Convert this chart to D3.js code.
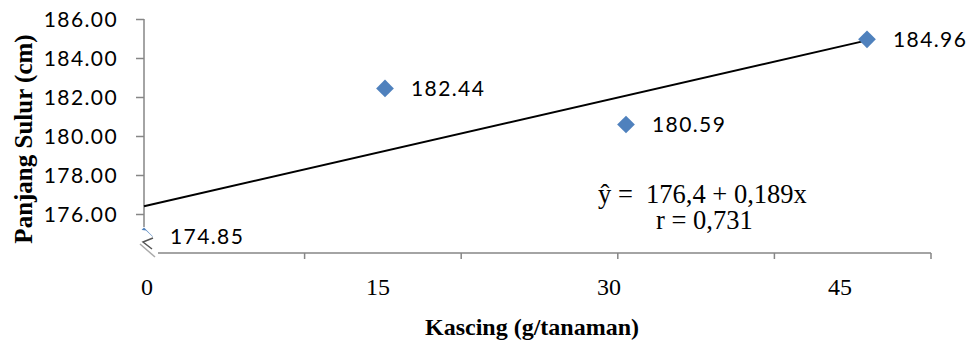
<!DOCTYPE html>
<html>
<head>
<meta charset="utf-8">
<script src="https://cdn.jsdelivr.net/npm/d3@7"></script>
<style>
  body { margin: 0; background: #fff; }
  .num { font-family: Lato, "Open Sans", sans-serif; font-size: 21px; letter-spacing: 1.4px; fill: #000; }
  .serif { font-family: "Liberation Serif", "Times New Roman", serif; fill: #000; }
</style>
</head>
<body>
<div class="main"></div>
<script>
// data
const doses = [0, 15, 30, 45];
const lengths = [174.85, 182.44, 180.59, 184.96];
const yTicks = [176, 178, 180, 182, 184, 186];
const xTickLabels = ["0", "15", "30", "45"];
const intercept = 176.4;
const slope = 0.189;
const equation = "ŷ =  176,4 + 0,189x";
const rText = "r = 0,731";

const w = 969;
const h = 344;

const svg = d3.select(".main")
  .append("svg")
  .attr("width", w)
  .attr("height", h);

const xScale = d3.scaleLinear().domain([0, 45]).range([144, 867]);
const yScale = d3.scaleLinear().domain([174, 186]).range([253, 19]);
// the category axis frame has 5 equal divisions
const frameScale = d3.scaleLinear().domain([0, 5]).range([148, 931]);
const labelScale = d3.scalePoint().domain(xTickLabels).range([147, 840]);

const axisColor = "#868686";

// y axis
const yAxis = d3.axisLeft(yScale)
  .tickValues(yTicks)
  .tickSize(8)
  .tickPadding(18)
  .tickFormat(d3.format(".2f"));

const gy = svg.append("g")
  .attr("transform", "translate(144,0)")
  .call(yAxis);
gy.select(".domain").remove();
gy.selectAll(".tick line").attr("stroke", axisColor).attr("stroke-width", 1.5);
gy.selectAll(".tick text")
  .attr("class", "num")
  .attr("dy", "0.36em");

svg.append("line")
  .attr("x1", 144).attr("x2", 144)
  .attr("y1", yScale(186)).attr("y2", 227)
  .attr("stroke", axisColor).attr("stroke-width", 1.5);

// x axis frame
svg.append("line")
  .attr("x1", 158).attr("x2", frameScale(5))
  .attr("y1", 253).attr("y2", 253)
  .attr("stroke", axisColor).attr("stroke-width", 1.5);

svg.selectAll(".xtick")
  .data(d3.range(1, 6))
  .enter()
  .append("line")
  .attr("x1", (d) => frameScale(d))
  .attr("x2", (d) => frameScale(d))
  .attr("y1", 253)
  .attr("y2", 259)
  .attr("stroke", axisColor)
  .attr("stroke-width", 1.5);

svg.selectAll(".xlabel")
  .data(xTickLabels)
  .enter()
  .append("text")
  .attr("class", "serif")
  .attr("x", (d) => labelScale(d))
  .attr("y", 295)
  .attr("font-size", "24px")
  .style("text-anchor", "middle")
  .text((d) => d);

// trend line
svg.append("line")
  .attr("x1", xScale(0))
  .attr("y1", yScale(intercept))
  .attr("x2", xScale(45))
  .attr("y2", yScale(intercept + slope * 45))
  .attr("stroke", "#000")
  .attr("stroke-width", 2);

// points
const diamond = d3.symbol().type(d3.symbolDiamond2).size(200);
svg.selectAll(".pt")
  .data(doses)
  .enter()
  .append("path")
  .attr("d", diamond)
  .attr("transform", (d, i) => "translate(" + xScale(d) + "," + yScale(lengths[i]) + ")")
  .attr("fill", "#4F81BD");

svg.selectAll(".lbl")
  .data(doses)
  .enter()
  .append("text")
  .attr("class", "num")
  .attr("x", (d) => xScale(d) + 26)
  .attr("y", (d, i) => yScale(lengths[i]))
  .attr("dy", "0.36em")
  .text((d, i) => lengths[i].toFixed(2));

// axis break mark over the first point
svg.append("polygon")
  .attr("points", "126,228 146,230.5 155,239 158,262 126,262")
  .attr("fill", "#fff");
svg.append("polyline")
  .attr("points", "153,238 143,242 152,249")
  .attr("fill", "none")
  .attr("stroke", "#555")
  .attr("stroke-width", 1.5);
svg.append("polyline")
  .attr("points", "140,244 155,257")
  .attr("fill", "none")
  .attr("stroke", "#aaa")
  .attr("stroke-width", 1.5);

// regression text (two lines in one block)
const eq = svg.append("text")
  .attr("class", "serif")
  .attr("font-size", "26.5px")
  .style("white-space", "pre");
eq.append("tspan").attr("x", 598).attr("y", 203).text(equation);
eq.append("tspan").attr("x", 656).attr("y", 229).text(rText);

// axis titles
svg.append("text")
  .attr("class", "serif")
  .attr("x", 532)
  .attr("y", 335)
  .attr("font-size", "24px")
  .attr("font-weight", "bold")
  .style("text-anchor", "middle")
  .text("Kascing (g/tanaman)");

svg.append("text")
  .attr("class", "serif")
  .attr("transform", "rotate(-90)")
  .attr("x", -139)
  .attr("y", 32)
  .attr("font-size", "25px")
  .attr("font-weight", "bold")
  .style("text-anchor", "middle")
  .text("Panjang Sulur (cm)");
</script>
</body>
</html>
